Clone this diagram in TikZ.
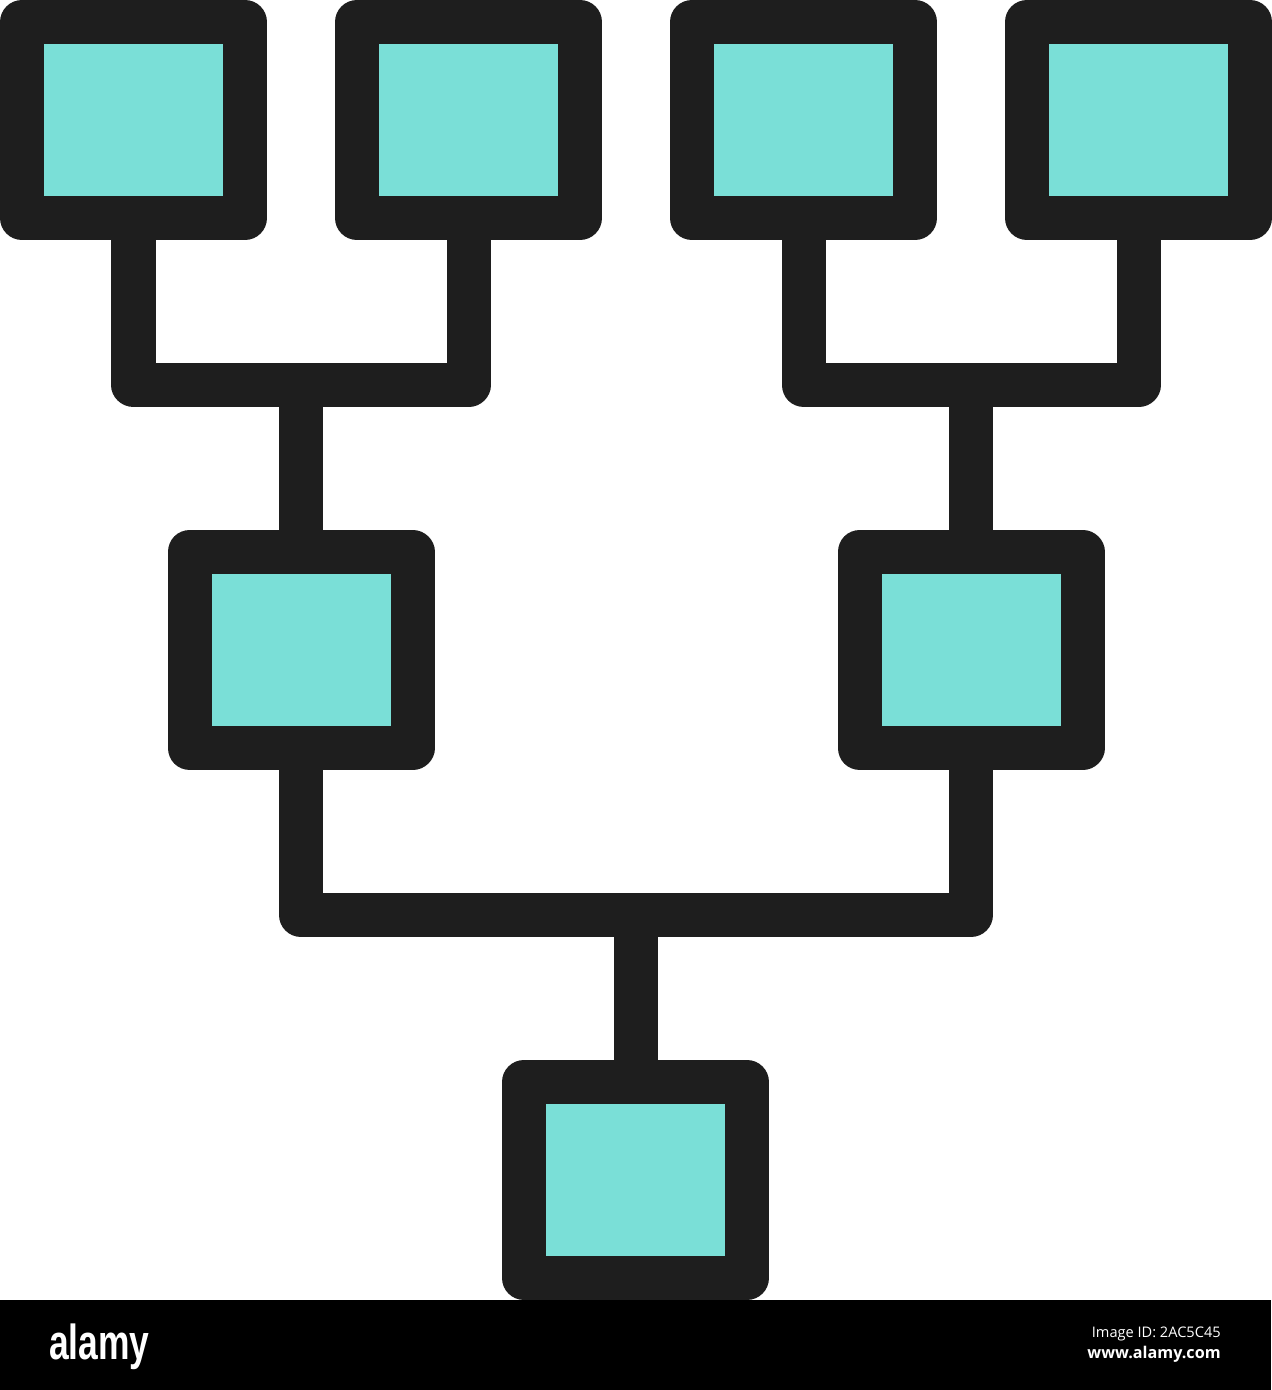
\documentclass[tikz,border=0pt]{standalone}
\usepackage{fontspec}
\usetikzlibrary{positioning}
\newfontfamily\logofont{Liberation Sans}
\newfontfamily\idfont{Open Sans}
\definecolor{iconink}{HTML}{1E1E1E}
\definecolor{iconfill}{HTML}{7ADFD7}

\tikzstyle{box} = [rectangle, minimum width=4.46cm, minimum height=3.92cm, inner sep=0pt, fill=iconfill, draw=iconink, line width=0.88cm, line join=round]
\tikzstyle{link} = [draw=iconink, line width=0.88cm, line join=round]
\tikzstyle{banner} = [inner sep=0pt, text=white]

\begin{document}
\begin{tikzpicture}[node distance=6.7cm]
        \useasboundingbox (-2.67,2.4) rectangle (22.75,-25.4);
        \fill[black] (-2.67,-23.6) rectangle (22.75,-25.4);

            \node (t1) [box] at (0,0) {};
            \node (t2) [box, right of=t1] {};
            \node (t3) [box, right of=t2] {};
            \node (t4) [box, right of=t3] {};
            \coordinate (jl) at (3.35,-5.3);
            \coordinate (jr) at (16.75,-5.3);
            \node (ml) [box, below of=jl, node distance=5.3cm] {};
            \node (mr) [box, below of=jr, node distance=5.3cm] {};
            \coordinate (jb) at (10.04,-15.9);
            \node (bt) [box, below of=jb, node distance=5.3cm] {};

            \draw [link] (t1.south) |- (jl) -| (t2.south);
            \draw [link] (t3.south) |- (jr) -| (t4.south);
            \draw [link] (jl) -- (ml.north);
            \draw [link] (jr) -- (mr.north);
            \draw [link] (ml.south) |- (jb) -| (mr.south);
            \draw [link] (jb) -- (bt.north);

            % bottom strip
            \node (logo) [banner, anchor=base west, xscale=0.72, font=\logofont\bfseries\fontsize{28}{30}\selectfont] at (-1.69,-24.78) {alamy};
            \node (imgid) [banner, anchor=base east, font=\idfont\fontsize{8.3}{10}\selectfont] at (21.75,-24.34) {Image ID: 2AC5C45};
            \node (site) [banner, anchor=base east, font=\idfont\bfseries\fontsize{9.2}{11}\selectfont] at (21.75,-24.76) {www.alamy.com};

    \end{tikzpicture}
\end{document}
